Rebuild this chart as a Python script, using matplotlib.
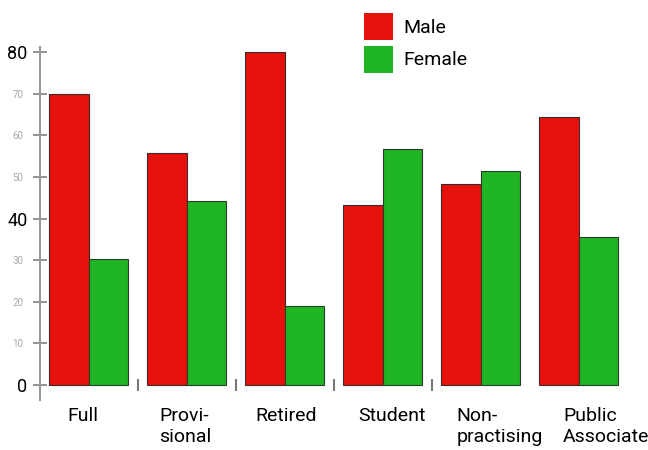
import numpy as np
import matplotlib.pyplot as plt
from matplotlib.patches import Patch
from matplotlib.transforms import ScaledTranslation

plt.rcParams['font.family'] = ['Roboto', 'DejaVu Sans']

# membership by category, per cent
categories = ['Full', 'Provi-\nsional', 'Retired', 'Student', 'Non-\npractising', 'Public\nAssociate']
male = [70.0, 55.7, 80.0, 43.3, 48.3, 64.3]
female = [30.3, 44.1, 19.1, 56.7, 51.5, 35.6]
ytick_major = [0, 40, 80]
ytick_minor = [10, 20, 30, 50, 60, 70]
# horizontal nudge of each category label, in points
label_shift = [-4, -1, 1, 7, 14, 20]

red = '#e5120b'
green = '#1fb523'

fig = plt.figure(figsize=(6.48, 4.5), dpi=100)
ax = fig.add_axes([40 / 648, 50 / 450, 598 / 648, 353 / 450])

x = np.arange(len(categories))
w = 0.403
ax.bar(x - w / 2, male, width=w, color=red, edgecolor='#3b2a2a', linewidth=0.8)
ax.bar(x + w / 2, female, width=w, color=green, edgecolor='#2a3b2a', linewidth=0.8)

ax.set_xlim(-0.495, 5.607)
ax.set_ylim(-3.6, 81.2)

for s in ['top', 'right']:
    ax.spines[s].set_visible(False)
ax.spines['left'].set_color('#9a9a9a')
ax.spines['left'].set_linewidth(1.5)
ax.spines['bottom'].set_position(('data', 0))
ax.spines['bottom'].set_color('none')

# y ticks
ax.set_yticks(ytick_major)
ax.set_yticklabels([str(v) for v in ytick_major], fontsize=13)
ax.set_yticks(ytick_minor, minor=True)
ax.set_yticklabels([str(v) for v in ytick_minor], minor=True, fontsize=7, color='#a8a8a8')
ax.tick_params(axis='y', which='both', direction='inout', length=10, width=1.3, color='#8a8a8a')
ax.tick_params(axis='y', which='major', pad=4)
ax.tick_params(axis='y', which='minor', pad=7)

# x ticks: labels at group centres, short separators between groups
ax.set_xticks(x)
ax.set_xticklabels(categories, fontsize=14, linespacing=1.2, multialignment='left')
ax.set_xticks([0.5, 1.5, 2.5, 3.5], minor=True)
ax.tick_params(axis='x', which='major', length=0, pad=16)
ax.tick_params(axis='x', which='minor', direction='inout', length=8, width=1.5, color='#777777')
for lbl, dx in zip(ax.get_xticklabels(), label_shift):
    lbl.set_transform(lbl.get_transform() + ScaledTranslation(dx / 72, 0, fig.dpi_scale_trans))

handles = [Patch(facecolor=red, label='Male'), Patch(facecolor=green, label='Female')]
fig.legend(handles=handles, loc='upper left', bbox_to_anchor=(364 / 648, 1 - 13 / 450),
           frameon=False, fontsize=14, handlelength=1.5, handleheight=1.75,
           handletextpad=0.5, labelspacing=0.3, borderpad=0, borderaxespad=0)

fig.savefig('out.png', dpi=100)
